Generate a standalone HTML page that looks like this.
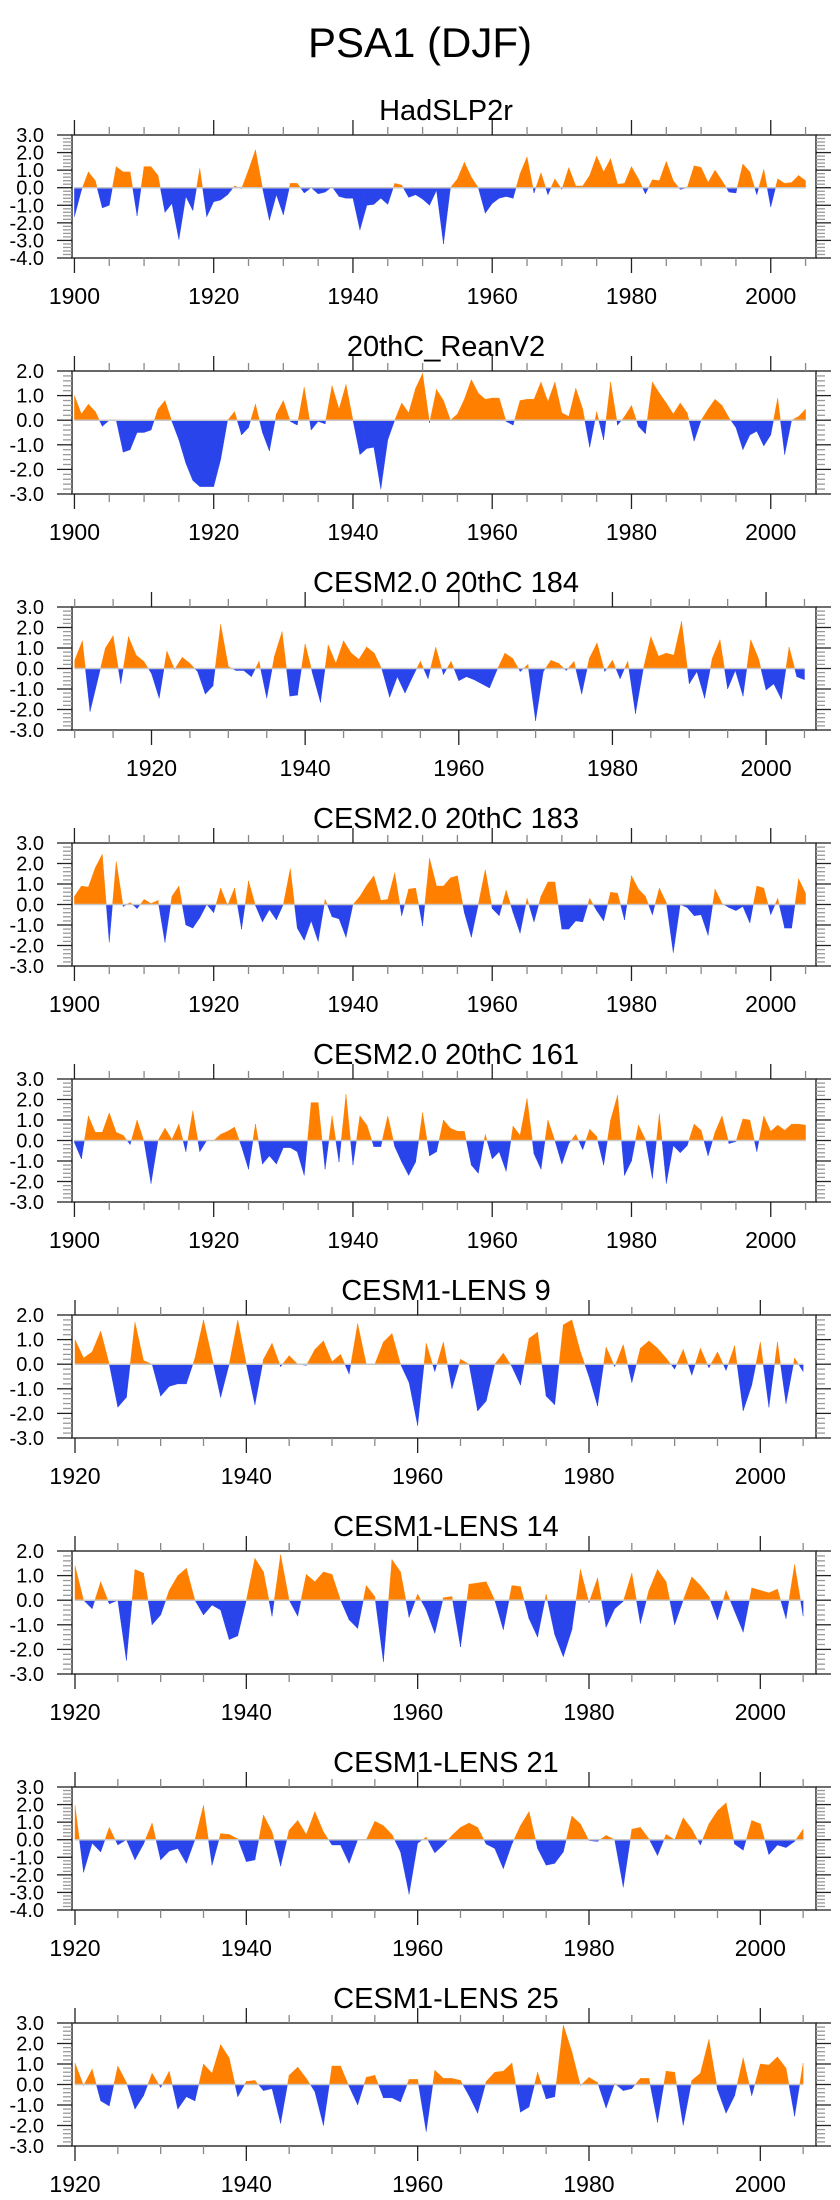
<!DOCTYPE html>
<html><head><meta charset="utf-8"><title>PSA1 (DJF)</title>
<style>html,body{margin:0;padding:0;background:#fff}svg{display:block}text{font-family:"Liberation Sans",Arial,sans-serif;fill:#000}</style>
</head><body>
<svg id="chart" width="840" height="2200" viewBox="0 0 840 2200" xmlns="http://www.w3.org/2000/svg">
<text x="420" y="57" text-anchor="middle" font-size="42">PSA1 (DJF)</text>
</svg>
<script>
const titles = ["HadSLP2r","20thC_ReanV2","CESM2.0 20thC 184","CESM2.0 20thC 183","CESM2.0 20thC 161","CESM1-LENS 9","CESM1-LENS 14","CESM1-LENS 21","CESM1-LENS 25"];
const startYears = [1900,1900,1910,1900,1900,1920,1920,1920,1920];
const yMaxes = [3,2,3,3,3,2,2,3,3];
const yMins = [-4,-3,-3,-3,-3,-3,-3,-4,-3];
const hadslp2r = [-1.65,-0.15,0.9,0.4,-1.15,-1.0,1.2,0.9,0.9,-1.6,1.2,1.2,0.7,-1.4,-0.9,-2.95,-0.5,-1.3,1.1,-1.65,-0.8,-0.7,-0.4,0.1,-0.05,1.0,2.15,0,-1.85,-0.4,-1.55,0.25,0.25,-0.3,0,-0.35,-0.25,0.05,-0.5,-0.6,-0.6,-2.4,-1.0,-0.95,-0.6,-0.95,0.25,0.15,-0.55,-0.4,-0.65,-1.0,-0.15,-3.2,0,0.5,1.45,0.6,0,-1.45,-0.9,-0.6,-0.5,-0.6,0.8,1.75,-0.3,0.85,-0.4,0.5,-0.1,1.15,0.1,0.1,0.7,1.8,0.9,1.65,0.2,0.25,1.2,0.5,-0.35,0.45,0.4,1.5,0.4,-0.1,0,1.25,1.15,0.3,1.0,0.4,-0.25,-0.3,1.35,0.9,-0.4,1.05,-1.1,0.5,0.25,0.3,0.7,0.4];
const reanV2 = [1.0,0.25,0.65,0.35,-0.25,0,0,-1.3,-1.2,-0.5,-0.5,-0.4,0.45,0.8,-0.05,-0.8,-1.75,-2.45,-2.7,-2.7,-2.7,-1.6,0,0.35,-0.6,-0.3,0.65,-0.5,-1.25,0.25,0.8,-0.05,-0.2,1.35,-0.4,-0.05,-0.15,1.4,0.45,1.45,0,-1.4,-1.15,-1.1,-2.8,-0.8,0,0.7,0.3,1.3,1.9,-0.1,1.25,0.8,0,0.25,0.85,1.65,1.1,0.85,0.9,0.9,-0.05,-0.2,0.8,0.85,0.85,1.55,0.75,1.55,0.3,0.15,1.3,0.45,-1.1,0.35,-0.8,1.55,-0.2,0.15,0.6,-0.25,-0.55,1.55,1.1,0.7,0.25,0.7,0.3,-0.85,0,0.45,0.85,0.6,0.1,-0.3,-1.2,-0.6,-0.45,-1.05,-0.6,0.9,-1.4,0,0.15,0.45];
const cesm2_184 = [0.4,1.35,-2.1,-0.55,1.0,1.6,-0.75,1.55,0.65,0.35,-0.25,-1.45,0.85,-0.05,0.55,0.25,-0.15,-1.25,-0.85,2.15,0.1,-0.1,-0.1,-0.4,0.35,-1.45,0.6,1.8,-1.35,-1.3,1.2,-0.3,-1.65,1.15,0.25,1.35,0.75,0.45,1.05,0.75,-0.05,-1.4,-0.4,-1.2,-0.4,0.35,-0.5,1.05,-0.3,0.35,-0.6,-0.4,-0.55,-0.75,-0.95,-0.05,0.75,0.5,-0.15,0.2,-2.55,-0.15,0.4,0.25,-0.1,0.35,-1.25,0.5,1.25,-0.15,0.4,-0.5,0.35,-2.2,-0.05,1.55,0.6,0.75,0.65,2.3,-0.75,-0.15,-1.45,0.5,1.4,-1.0,-0.1,-1.35,1.4,0.5,-1.05,-0.75,-1.5,1.05,-0.4,-0.55];
const cesm2_183 = [0.4,0.9,0.85,1.8,2.45,-1.85,2.1,-0.1,0.1,-0.2,0.25,0.05,0.2,-1.85,0.4,0.9,-1.0,-1.15,-0.65,0,-0.4,0.8,-0.05,0.8,-1.2,1.15,-0.05,-0.85,-0.25,-0.75,0,1.75,-1.15,-1.75,-0.8,-1.8,0.25,-0.6,-0.7,-1.6,0,0.4,0.95,1.4,0.2,0.25,1.55,-0.55,0.75,0.8,-1.05,2.25,0.9,0.9,1.3,1.4,-0.4,-1.6,0,1.7,-0.2,-0.55,0.7,-0.4,-1.4,0.3,-0.85,0.4,1.1,1.1,-1.2,-1.2,-0.8,-0.85,0.3,-0.3,-0.8,0.6,0.55,-0.75,1.4,0.75,0.4,-0.5,0.8,0.1,-2.35,0,-0.15,-0.55,-0.5,-1.5,0.75,0.05,-0.15,-0.3,-0.1,-0.9,0.9,0.8,-0.5,0.3,-1.15,-1.15,1.25,0.55];
const cesm2_161 = [-0.1,-0.9,1.2,0.4,0.4,1.35,0.4,0.25,-0.2,1.0,-0.05,-2.1,0,0.6,0.05,0.8,-0.55,1.45,-0.55,0,0,0.3,0.45,0.65,-0.3,-1.4,0.8,-1.15,-0.75,-1.15,-0.35,-0.35,-0.55,-1.7,1.85,1.85,-1.4,1.2,-1.05,2.25,-1.2,1.2,0.75,-0.3,-0.3,1.2,-0.3,-1.05,-1.7,-1.05,1.35,-0.75,-0.55,1.0,0.6,0.45,0.45,-1.2,-1.6,0.3,-0.9,-0.55,-1.5,0.7,0.25,2.05,-0.65,-1.4,1.0,0,-1.15,-0.15,0.3,-0.45,0.55,0.2,-1.2,1.0,2.2,-1.7,-1.0,0.75,0.05,-1.85,1.3,-2.1,-0.25,-0.6,-0.25,0.8,0.5,-0.75,0.4,1.2,-0.15,-0.05,1.05,1.0,-0.55,1.2,0.45,0.75,0.5,0.8,0.8,0.75];
const lens9 = [1.0,0.25,0.5,1.35,0,-1.75,-1.35,1.7,0.15,0,-1.3,-0.9,-0.8,-0.8,0.25,1.8,0.25,-1.35,0,1.8,0,-1.65,0.2,0.85,-0.1,0.35,0,-0.05,0.6,0.95,0.1,0.4,-0.4,1.65,0,0,0.9,1.25,0,-0.75,-2.5,0.85,-0.3,0.9,-1.0,0.2,0,-1.9,-1.5,0,0.45,-0.1,-0.85,1.05,1.3,-1.3,-1.65,1.6,1.8,0.5,-0.5,-1.7,0.7,-0.1,0.8,-0.75,0.65,0.95,0.65,0.25,-0.2,0.6,-0.45,0.65,-0.15,0.5,-0.25,0.75,-1.9,-0.85,0.9,-1.75,0.9,-1.6,0.25,-0.3];
const lens14 = [1.4,0,-0.35,0.75,-0.15,0,-2.45,1.25,1.1,-1.0,-0.6,0.4,1.0,1.3,0,-0.6,-0.2,-0.4,-1.6,-1.45,0,1.7,1.15,-0.65,1.85,0,-0.65,1.05,0.75,1.15,1.05,0,-0.8,-1.15,0.6,0.15,-2.5,1.65,1.15,-0.7,0.25,-0.4,-1.35,0.1,0.15,-1.9,0.65,0.7,0.75,0,-1.2,0.6,0.55,-0.75,-1.5,0.25,-1.4,-2.3,-1.2,1.25,-0.1,0.9,-1.1,-0.35,-0.05,1.1,-0.95,0.4,1.25,0.75,-1.0,0,0.95,0.6,0.15,-0.8,0.4,-0.45,-1.3,0.5,0.4,0.3,0.45,-0.75,1.45,-0.65];
const lens21 = [1.95,-1.85,-0.2,-0.7,0.7,-0.3,0,-1.15,-0.25,0.95,-1.15,-0.65,-0.5,-1.35,0,1.95,-1.45,0.35,0.3,0.05,-1.25,-1.15,1.4,0.45,-1.5,0.55,1.1,0.3,1.6,0.45,-0.3,-0.3,-1.35,0,0,1.05,0.8,0.3,-0.7,-3.1,-0.2,0.15,-0.75,-0.3,0.25,0.7,0.95,0.7,-0.25,-0.5,-1.65,-0.25,0.8,1.6,-0.5,-1.45,-1.35,-0.7,1.35,0.9,-0.05,-0.1,0.25,0,-2.7,0.6,0.7,0.05,-0.9,0.3,0,1.25,0.6,-0.3,0.9,1.65,2.1,-0.25,-0.6,1.1,0.9,-0.85,-0.3,-0.45,-0.1,0.6];
const lens25 = [1.05,-0.05,0.75,-0.8,-1.05,0.9,0.1,-1.2,-0.55,0.55,-0.15,0.65,-1.2,-0.6,-0.8,1.0,0.55,1.95,1.3,-0.6,0.15,0.2,-0.3,-0.2,-1.9,0.45,0.85,0.3,-0.35,-2.0,0.9,0.9,-0.1,-1.0,0.35,0.45,-0.65,-0.65,-0.85,0.25,0.25,-2.3,0.7,0.3,0.3,0.2,-0.55,-1.4,0.15,0.6,0.65,1.05,-1.35,-1.1,0.6,-0.7,-0.6,2.9,1.6,-0.05,0.35,0.1,-1.15,0.05,-0.3,-0.2,0.3,0.3,-1.85,0.65,0.6,-2.0,0.2,0.55,2.2,-0.25,-1.4,-0.55,1.3,-0.55,1.0,0.95,1.35,0.8,-1.55,1.05];
const seriesList = [hadslp2r, reanV2, cesm2_184, cesm2_183, cesm2_161, lens9, lens14, lens21, lens25];

const NS = "http://www.w3.org/2000/svg";
const svg = document.getElementById("chart");
const BOX_L = 72, BOX_R = 816, BOX_H = 123, TOP0 = 135, STEP = 236, X_END = 2006.5;
function mk(tag, attrs, parent) {
  const e = document.createElementNS(NS, tag);
  for (const k in attrs) e.setAttribute(k, attrs[k]);
  (parent || svg).appendChild(e);
  return e;
}
seriesList.forEach((vals, p) => {
  const top = TOP0 + p * STEP, bot = top + BOX_H;
  const start = startYears[p], x0 = start - 0.35;
  const ymax = yMaxes[p], ymin = yMins[p];
  const xs = yr => BOX_L + (yr - x0) / (X_END - x0) * (BOX_R - BOX_L);
  const ys = v => top + (ymax - v) / (ymax - ymin) * BOX_H;
  const g = mk("g", {});
  
  
  const t = mk("text", {x: (BOX_L + BOX_R) / 2 + 2, y: top - 15, "text-anchor": "middle", "font-size": 29}, g);
  t.textContent = titles[p];
  
  
  const z = ys(0);
  let posD = "", negD = "";
  for (let i = 0; i < vals.length - 1; i++) {
    const xa = xs(start + i), xb = xs(start + i + 1), va = vals[i], vb = vals[i + 1];
    const pieces = [];
    if ((va >= 0) === (vb >= 0)) pieces.push([xa, va, xb, vb]);
    else { const xc = xa + (xb - xa) * va / (va - vb); pieces.push([xa, va, xc, 0]); pieces.push([xc, 0, xb, vb]); }
    pieces.forEach(([x1, v1, x2, v2]) => {
      const d = `M${x1},${z}L${x1},${ys(v1)}L${x2},${ys(v2)}L${x2},${z}Z`;
      if (v1 + v2 >= 0) posD += d; else negD += d;
    });
  }
  const pp = mk("path", {d: posD, fill: "#ff8000", stroke: "#ff8000", "stroke-width": 0.4}, g);
  
  
  const np = mk("path", {d: negD, fill: "#2a44ec", stroke: "#2a44ec", "stroke-width": 0.4}, g);
  
  
  const zl = mk("line", {x1: xs(start), x2: xs(start + vals.length - 1), y1: z, y2: z, stroke: "#c8c8c8", "stroke-width": 1.5}, g);
  
  
  const fr = mk("rect", {x: BOX_L, y: top, width: BOX_R - BOX_L, height: BOX_H, fill: "none", stroke: "#333", "stroke-width": 1.5}, g);
  
  
  for (let k = Math.round(ymin * 5); k <= Math.round(ymax * 5); k++) {
    const v = k / 5, y = ys(v), major = (k % 5 === 0);
    const L = major ? 15 : 9, col = major ? "#222" : "#999";
    mk("line", {x1: BOX_L - L, x2: BOX_L, y1: y, y2: y, stroke: col, "stroke-width": 1.3}, g);
    mk("line", {x1: BOX_R, x2: BOX_R + L, y1: y, y2: y, stroke: col, "stroke-width": 1.3}, g);
    if (major) {
      const lb = mk("text", {x: 44, y: y + 7, "text-anchor": "end", "font-size": 20}, g);
      lb.textContent = v.toFixed(1);
      
      
    }
  }
  for (let yr = Math.ceil(x0 / 5) * 5; yr <= X_END; yr += 5) {
    const x = xs(yr), major = (yr % 20 === 0);
    const L = major ? 15 : 8, col = major ? "#222" : "#888";
    mk("line", {x1: x, x2: x, y1: top - L, y2: top, stroke: col, "stroke-width": 1.3}, g);
    mk("line", {x1: x, x2: x, y1: bot, y2: bot + L, stroke: col, "stroke-width": 1.3}, g);
    if (major) {
      const lb = mk("text", {x: x, y: bot + 46, "text-anchor": "middle", "font-size": 23}, g);
      lb.textContent = yr;
      
      
    }
  }
});
</script>
</body></html>
